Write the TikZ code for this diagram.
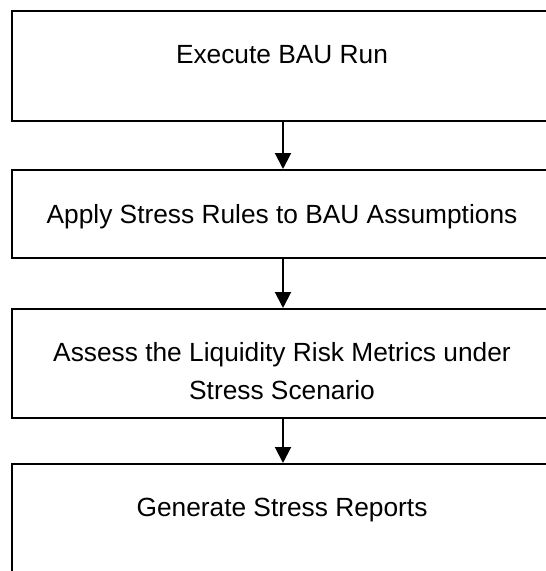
\documentclass[tikz,border=0pt]{standalone}
\usepackage{fontspec}
\setmainfont{Liberation Sans}
\usetikzlibrary{arrows.meta}
\begin{document}
\begin{tikzpicture}[x=1pt,y=-1pt,
  stepbox/.style={draw=black,line width=2pt,minimum width=542pt,inner sep=0pt,anchor=north west},
  lbl/.style={anchor=base,inner sep=0pt,font=\fontsize{26.3}{37.5}\selectfont,align=center},
  conn/.style={line width=2pt,-{Triangle[width=16pt,length=16pt]}}]
\useasboundingbox (0,0) rectangle (546,571);
\clip (0,0) rectangle (546,571);
\node[stepbox,minimum height=110pt] (b1) at (11,10) {};
\node[stepbox,minimum height=88pt] (b2) at (11,169) {};
\node[stepbox,minimum height=109pt] (b3) at (11,308) {};
\node[stepbox,minimum height=110pt] (b4) at (11,463) {};
\node[lbl] (t1) at (282,63) {Execute BAU Run};
\node[lbl] (t2) at (282,223) {Apply Stress Rules to BAU Assumptions};
\node[lbl] (t3) at (282,399) {Assess the Liquidity Risk Metrics under\\Stress Scenario};
\node[lbl] (t4) at (282,516) {Generate Stress Reports};
\draw[conn] (b1.south) -- (b2.north);
\draw[conn] (b2.south) -- (b3.north);
\draw[conn] (b3.south) -- (b4.north);
\end{tikzpicture}
\end{document}
